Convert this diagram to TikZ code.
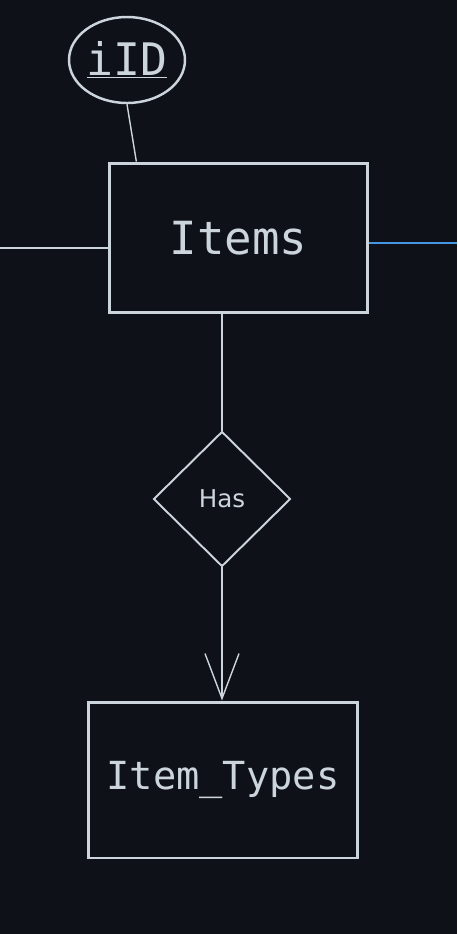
\documentclass[tikz,border=0pt]{standalone}
\usepackage{fontspec}
\setmonofont{DejaVu Sans Mono}
\newfontfamily\relfont{DejaVu Sans}
\usepackage{xcolor}
\usetikzlibrary{positioning, arrows.meta, calc, shapes.geometric}

\definecolor{bgdark}{HTML}{0E1118}
\definecolor{ink}{HTML}{CDD5DC}
\definecolor{linkblue}{HTML}{4696E4}

\begin{document}
\begin{tikzpicture}[
    x=0.02cm, y=-0.02cm,
    entity/.style={
        draw=ink, line width=1.7pt, text=ink,
        font=\ttfamily\fontsize{26}{30}\selectfont,
        inner sep=0pt, text centered
    },
    attr/.style={
        draw=ink, ellipse, line width=1.4pt, text=ink,
        minimum width=2.32cm, minimum height=1.72cm,
        font=\ttfamily\fontsize{25.5}{28}\selectfont, inner sep=0pt
    },
    rel/.style={
        draw=ink, diamond, line width=1.1pt, text=ink,
        minimum width=2.74cm, minimum height=2.7cm,
        font=\relfont\fontsize{14}{16}\selectfont, inner sep=0pt
    },
    link/.style={draw=ink, line width=0.8pt},
    arr/.style={link, -{Straight Barb[length=0.9cm, width=0.68cm, line width=0.8pt]}}
]
    \fill[bgdark] (0,0) rectangle (457,934);
    \useasboundingbox (0,0) rectangle (457,934);

    \node[attr] (iid) at (127,60) {\underline{iID}};
    \node[entity, minimum width=5.18cm, minimum height=3cm] (items) at (238.5,238) {Items};
    \node[rel] (has) at (222,499) {Has};
    \node[entity, font=\ttfamily\fontsize{22}{25}\selectfont,
          minimum width=5.4cm, minimum height=3.12cm] (types) at (223,780) {Item\_Types};

    \coordinate (lft) at (0,248);
    \coordinate (rgt) at (457,243);

    \draw[link] (iid.south) -- ($(items.north west)!0.11!(items.north east)$);
    \draw[link] (lft) -- (lft -| items.west);
    \draw[link, draw=linkblue, line width=1.1pt] (items.east |- rgt) -- (rgt);
    \draw[link] (has.north |- items.south) -- (has.north);
    \draw[arr] (has.south) -- (has.south |- types.north);
\end{tikzpicture}
\end{document}
